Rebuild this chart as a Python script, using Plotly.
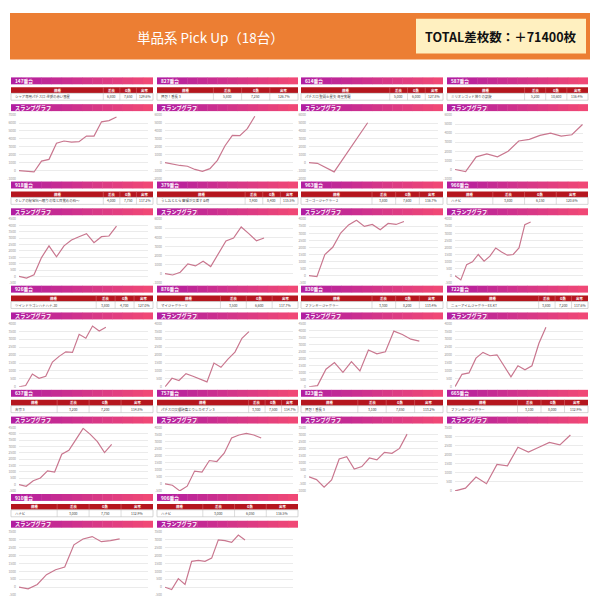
import plotly.graph_objects as go

W, H = 600, 614

# ---------------- data ----------------
units = ["147", "827", "614", "587", "918", "379", "963", "966", "926",
         "876", "830", "722", "637", "757", "823", "665", "910", "906"]
machines = ["シャア専用パチスロ 逆襲の赤い彗星", "押忍！番長３", "パチスロ 聖闘士星矢 海皇覚醒",
            "ミリオンゴッド神々の凱旋", "クレアの秘宝伝～眠りの塔と目覚めの石～",
            "うしおととら 雷槍が交差する時", "ゴーゴージャグラー２", "ハナビ",
            "ツインドラゴンハナハナ-30", "マイジャグラーⅤ", "ファンキージャグラー",
            "ニューアイムジャグラーEX-KT", "吉宗３", "パチスロ交響詩篇エウレカセブン３",
            "押忍！番長３", "ファンキージャグラー", "ハナビ", "ハナビ"]
diff_vals = [6800, 5800, 5000, 5200, 4000, 3900, 3800, 3800, 3800,
             3500, 3300, 3800, 3200, 3300, 3100, 3100, 3000, 3000]
games = [7650, 7250, 6000, 10600, 7750, 8400, 7600, 6150, 4700,
         6600, 8200, 7200, 7200, 7500, 7850, 8000, 7750, 6050]
rates = ["129.6%", "126.7%", "127.8%", "116.4%", "117.2%", "115.5%", "116.7%", "120.6%", "127.0%",
         "117.7%", "113.4%", "117.6%", "114.8%", "114.7%", "113.2%", "112.9%", "112.9%", "116.5%"]

series = [
    [0, -170, 1200, 1420, 3450, 3730, 3600, 3650, 4350, 4350, 6150, 6300, 6750],
    [0, -200, -350, -450, -850, -1100, -750, 300, 2100, 3450, 3400, 4300, 5850],
    [0, -80, -1160, 5030],
    [0, -220, 1390, 1720, 1390, 2010, 3140, 3320, 3760, 4010, 3690, 3830, 4960],
    [0, -130, 130, 1480, 2400, 1540, 2400, 2860, 3125, 3360, 2650, 3125, 3180, 3960],
    [0, -150, 150, 1070, 850, 1370, 780, 2150, 3600, 3930, 5150, 4410, 3630, 3930],
    [0, -70, 1500, 2010, 3020, 3600, 3930, 3490, 3630, 3250, 3700, 3630, 3840],
    [0, -300, 780, 980, 1500, 1030, 1380, 1960, 1680, 1450, 1500, 1960, 3620, 3800],
    [0, 80, 810, 540, 670, 1560, 1920, 2210, 2170, 3310, 3060, 3830, 3520, 3750],
    [0, 540, 400, 830, 670, 500, 310, 1500, 1230, 1750, 2190, 3060, 3480],
    [0, 90, 1250, 1720, 1030, 1790, 1130, 2610, 2340, 2490, 3950, 3710, 3380, 3240],
    [0, 790, 875, 1810, 2170, 1960, 2020, 1290, 625, 1330, 1080, 1330, 2750, 3750],
    [0, -130, 310, 520, 1090, 990, 2400, 2710, 3570, 4430, 3960, 3390, 2530, 3180],
    [0, -90, -490, -160, 910, 840, 1660, 1590, 2180, 3260, 3470, 3580, 3470, 3260],
    [0, -190, -730, -210, 1270, 1430, 560, 730, 1340, 1200, 1740, 1670, 2020, 3030],
    [0, 160, 770, 400, 1460, 1390, 2410, 2150, 2410, 2680, 2540, 3090],
    [0, -100, 170, 790, 1100, 1270, 2670, 3040, 3190, 2870, 2940, 3040],
    [0, -150, 540, 170, 1630, 1690, 1630, 1830, 2980, 2940, 2830, 3290, 2980],
]
# x positions (data-point index) where the sampling is not one per step
x_override = {0: [0, 2, 3, 4, 5, 6, 7, 8, 9, 10, 11, 12, 13], 2: [0, 1, 3, 7]}
x_max = [17.2, 17.1, 15.4, 12.05, 17.2, 16.8, 16.3, 22.0, 19.3,
         18.3, 15.2, 18.3, 18.1, 17.3, 17.1, 12.2, 14.1, 19.2]
y_min = [-1000, -2000, -2000, -1000, -500, -1000, -500, -500, 0,
         0, 0, 0, -500, -500, -1000, 0, -500, -500]
y_max = [7000, 6000, 6000, 6000, 4500, 6000, 4000, 4000, 4000,
         4000, 4500, 4000, 4500, 4000, 3500, 3500, 3500, 3500]
y_step = [1000, 1000, 1000, 1000, 500, 1000, 500, 500, 500,
          500, 500, 500, 500, 500, 500, 500, 500, 500]
table_head = ["機種", "差枚", "G数", "出率"]
total_text = "TOTAL差枚数：＋71400枚"
title_text = "単品系 Pick Up（18台）"

# ---------------- layout helpers ----------------
FONT = "Noto Sans CJK JP, Noto Sans, sans-serif"
col_x0 = [11, 157, 301, 447]
col_x1 = [153, 298, 443, 588]
row_y0 = [75, 180, 285, 390, 495]


def px(x):
    return x / W


def py(y):
    return 1 - y / H


shapes = []
annotations = []


def rect(x0, x1, y0, y1, fill, line_color=None, lw=0):
    shapes.append(dict(type="rect", xref="paper", yref="paper",
                       x0=px(x0), x1=px(x1), y0=py(y1), y1=py(y0),
                       fillcolor=fill, line=dict(width=lw, color=line_color or fill),
                       layer="above"))


def vline(x, y0, y1, color, lw=0.6):
    shapes.append(dict(type="line", xref="paper", yref="paper",
                       x0=px(x), x1=px(x), y0=py(y1), y1=py(y0),
                       line=dict(width=lw, color=color), layer="above"))


def text(x, y, s, size, color, xanchor="center", bold=False):
    annotations.append(dict(x=px(x), y=py(y), xref="paper", yref="paper",
                            text=f"<b>{s}</b>" if bold else s, showarrow=False,
                            xanchor=xanchor, yanchor="middle",
                            font=dict(size=size, color=color, family=FONT)))


def gradient_bar(x0, x1, y0, y1, n=14):
    c0 = (178, 30, 160)
    c1 = (240, 72, 118)
    w = (x1 - x0) / n
    for k in range(n):
        t = k / (n - 1)
        c = tuple(round(a + (b - a) * t) for a, b in zip(c0, c1))
        xa = x0 + w * k
        xb = min(x1, xa + w + 0.4)
        rect(xa, xb, y0, y1, "rgb(%d,%d,%d)" % c)


# title band
rect(10, 590, 10, 57, "#EC7E33")
rect(416, 586, 16, 51, "#FFF0C0")
text(210, 34, title_text, 13.5, "white")
text(501, 34, total_text, 12.5, "#111111", bold=True)

fig = go.Figure()
layout_axes = {}

for i in range(18):
    r, c = divmod(i, 4)
    x0, x1 = col_x0[c], col_x1[c]
    y0 = row_y0[r]
    wdt = x1 - x0

    # unit header
    gradient_bar(x0, x1, y0, y0 + 7)
    text(x0 + 2, y0 + 3.6, units[i] + "番台", 4.8, "white", xanchor="left", bold=True)

    # table
    name = machines[i]
    f = min(0.65, max(0.3, 0.25 + 0.025 * len(name)))
    widths = [f] + [(1 - f) / 3] * 3
    edges = [x0]
    for wv in widths:
        edges.append(edges[-1] + wv * wdt)
    rect(x0, x1, y0 + 10, y0 + 16, "#B5161E")
    rect(x0, x1, y0 + 16, y0 + 23, "white", "#BBBBBB", 0.6)
    for e in edges[1:-1]:
        vline(e, y0 + 10, y0 + 16, "#D9787C", 0.5)
        vline(e, y0 + 16, y0 + 23, "#BBBBBB", 0.5)
    cells = [name, f"{diff_vals[i]:,}", f"{games[i]:,}", rates[i]]
    for k in range(4):
        cx = (edges[k] + edges[k + 1]) / 2
        text(cx, y0 + 13, table_head[k], 3.4, "white", bold=True)
        if k == 0:
            text(edges[0] + 2, y0 + 19.5, cells[k], 3.4, "#444444", xanchor="left")
        else:
            text(cx, y0 + 19.5, cells[k], 3.4, "#444444")

    # slump header
    gradient_bar(x0, x1, y0 + 27, y0 + 34)
    text(x0 + 2, y0 + 30.6, "スランプグラフ", 5.2, "white", xanchor="left", bold=True)

    # chart
    suf = "" if i == 0 else str(i + 1)
    ys = series[i]
    xs = x_override.get(i, list(range(len(ys))))
    fig.add_trace(go.Scatter(x=xs, y=ys, mode="lines",
                             line=dict(color="#C9778F", width=1.2),
                             xaxis="x" + suf, yaxis="y" + suf,
                             hoverinfo="skip", showlegend=False))
    ticks = list(range(y_min[i], y_max[i] + 1, y_step[i]))
    layout_axes["xaxis" + suf] = dict(domain=[px(x0 + 8), px(x1 - 5)], range=[0, x_max[i]],
                                      visible=False, anchor="y" + suf, fixedrange=True)
    layout_axes["yaxis" + suf] = dict(domain=[py(y0 + 102), py(y0 + 38)],
                                      range=[y_min[i], y_max[i]],
                                      tickvals=ticks, ticktext=[str(t) for t in ticks],
                                      tickfont=dict(size=3.4, color="#999999", family=FONT),
                                      showgrid=True, gridcolor="#EBEBEB", gridwidth=0.6,
                                      zeroline=False, showline=False, ticks="",
                                      ticklabelstandoff=2,
                                      anchor="x" + suf, fixedrange=True)

fig.update_layout(width=W, height=H, margin=dict(l=0, r=0, t=0, b=0),
                  paper_bgcolor="white", plot_bgcolor="white",
                  showlegend=False, shapes=shapes, annotations=annotations,
                  font=dict(family=FONT), **layout_axes)

fig.write_html("out.html", config={"displayModeBar": False},
               post_script="document.body.style.margin='0px';document.body.style.padding='0px';")
